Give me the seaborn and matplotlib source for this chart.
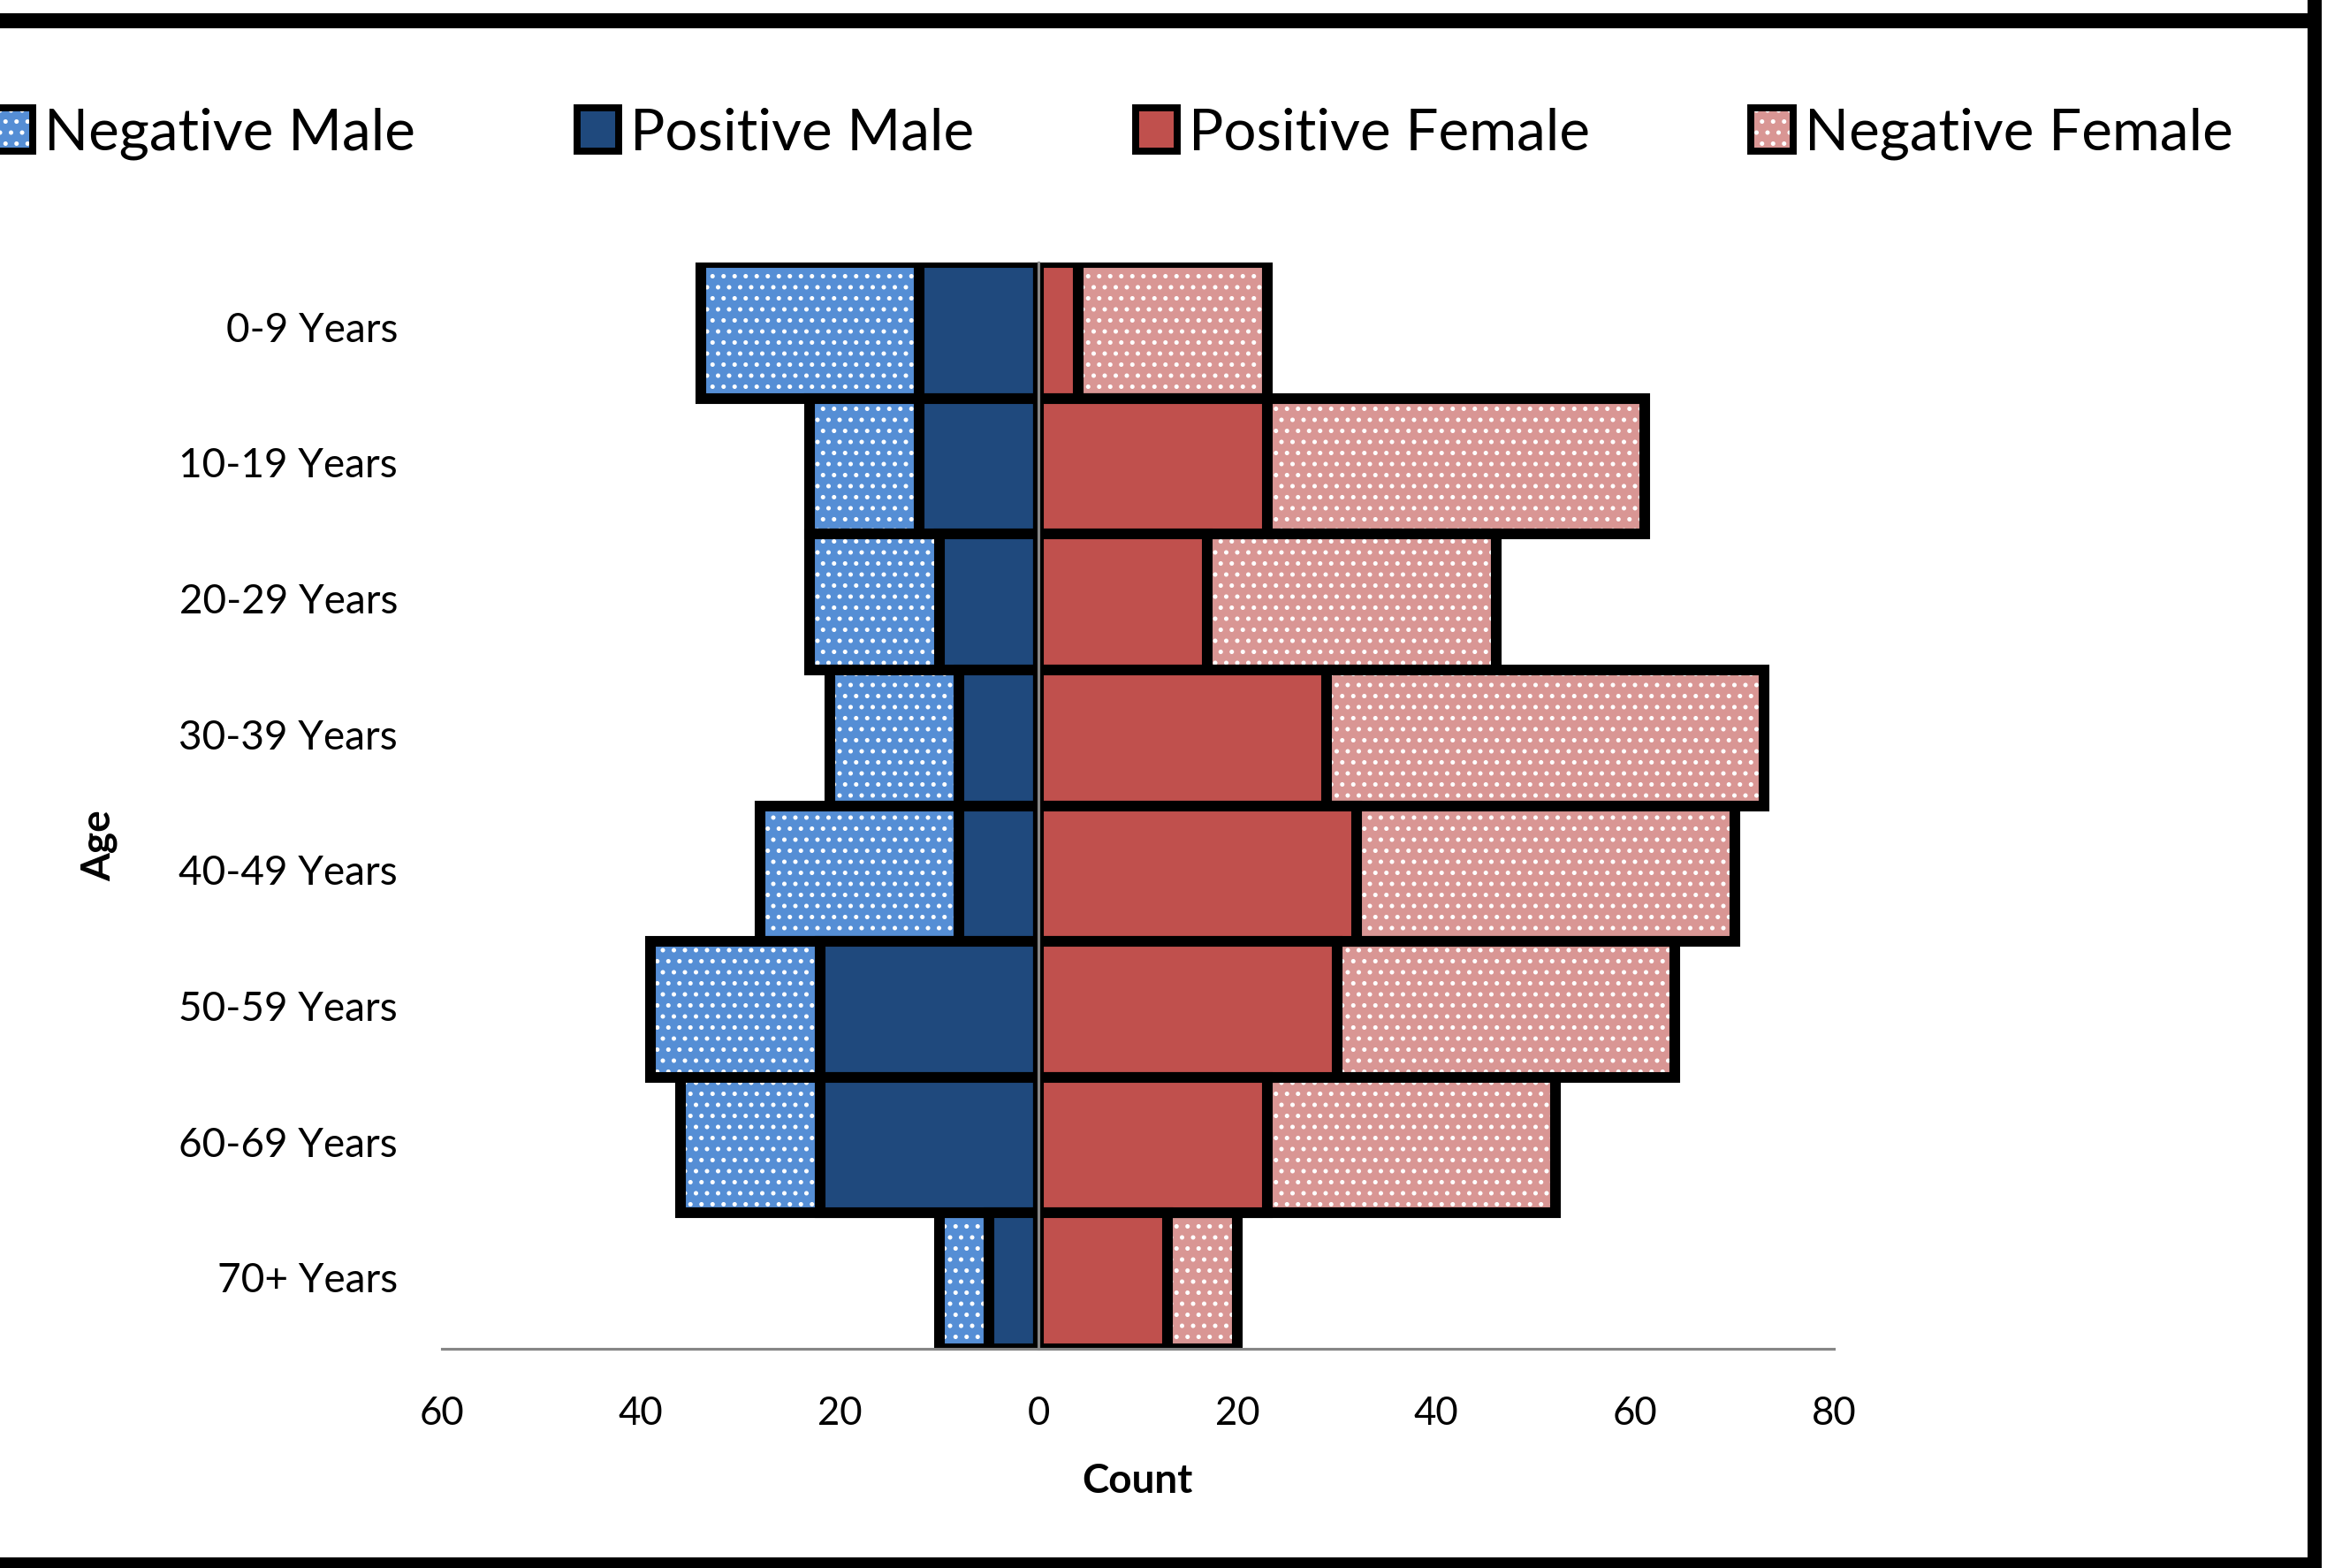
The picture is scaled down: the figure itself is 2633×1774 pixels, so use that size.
import numpy as np
import pandas as pd
import matplotlib
matplotlib.use("Agg")
import matplotlib.pyplot as plt
import matplotlib.transforms as mtransforms
from matplotlib.patches import Patch, Rectangle
from matplotlib.colors import to_rgba
import seaborn as sns

# ---------------- data ----------------
categories = ["0-9 Years", "10-19 Years", "20-29 Years", "30-39 Years",
              "40-49 Years", "50-59 Years", "60-69 Years", "70+ Years"]
positive_male = [12, 12, 10, 8, 8, 22, 22, 5]
negative_male = [22, 11, 13, 13, 20, 17, 14, 5]
positive_female = [4, 23, 17, 29, 32, 30, 23, 13]
negative_female = [19, 38, 29, 44, 38, 34, 29, 7]
series_labels = ["Negative Male", "Positive Male", "Positive Female", "Negative Female"]
x_ticks = [-60, -40, -20, 0, 20, 40, 60, 80]
x_tick_labels = ["60", "40", "20", "0", "20", "40", "60", "80"]

# ---------------- style ----------------
sns.set_style("white")
plt.rcParams["font.family"] = ["Lato", "DejaVu Sans"]
plt.rcParams["hatch.linewidth"] = 1.2
plt.rcParams["text.color"] = "black"

C_NEG_M = "#558ED5"
C_POS_M = "#1F497D"
C_POS_F = "#C0504D"
C_NEG_F = "#D99694"
GRAY = "#868686"
EDGE_LW = 5.8

W, H, DPI = 2633, 1774, 150
fig = plt.figure(figsize=(W / DPI, H / DPI), dpi=DPI)
fig.patch.set_facecolor("white")
ax = fig.add_axes([500 / W, 1 - 1526 / H, 1575 / W, 1229 / H])

pm = np.array(positive_male)
nm = np.array(negative_male)
pf = np.array(positive_female)
nf = np.array(negative_female)
df = pd.DataFrame({
    "age": categories,
    "male_total": -(pm + nm),
    "male_pos": -pm,
    "female_total": pf + nf,
    "female_pos": pf,
})


def white_hatch(patches, hatch):
    for p in patches:
        p.set_hatch(hatch)
        if hasattr(p, "set_hatchcolor"):
            p.set_hatchcolor("white")
        else:
            p._hatch_color = to_rgba("white")


layers = [("male_total", C_NEG_M, True), ("male_pos", C_POS_M, False),
          ("female_total", C_NEG_F, True), ("female_pos", C_POS_F, False)]
for col, color, hatched in layers:
    sns.barplot(data=df, x=col, y="age", order=categories, orient="h",
                color=color, saturation=1, width=1.0, edgecolor="black",
                linewidth=EDGE_LW, errorbar=None, ax=ax)
    if hatched:
        white_hatch(ax.containers[-1], "..")

# ---------------- axes ----------------
ax.set_xlim(-60, 80)
ax.set_ylim(len(categories) - 0.5, -0.5)
ax.set_xticks(x_ticks)
ax.set_xticklabels(x_tick_labels)
ax.set_yticks(np.arange(-0.5, len(categories), 1.0))
ax.set_yticklabels([])
ax.set_xlabel("")
ax.set_ylabel("")

for s in ["top", "right"]:
    ax.spines[s].set_visible(False)
ax.spines["left"].set_position(("data", 0))
for s in ["left", "bottom"]:
    ax.spines[s].set_color(GRAY)
    ax.spines[s].set_linewidth(1.5)

ax.tick_params(axis="y", direction="out", length=7.5, width=1.5, color=GRAY, labelleft=False)
ax.tick_params(axis="x", direction="out", length=8.6, width=1.5, color=GRAY,
               labelsize=21, labelcolor="black", pad=17)

trans = mtransforms.blended_transform_factory(ax.transAxes, ax.transData)
for i, c in enumerate(categories):
    ax.text(-50 / 1575, i, c, transform=trans, ha="right", va="center",
            fontsize=22, color="black")

fig.text(1287 / W, 1 - 1676 / H, "Count", ha="center", va="center",
         fontsize=22, fontweight="bold")
fig.text(112 / W, 1 - 957 / H, "Age", ha="center", va="center", rotation=90,
         fontsize=22, fontweight="bold")

# ---------------- legend ----------------
handle_colors = [C_NEG_M, C_POS_M, C_POS_F, C_NEG_F]
handle_hatch = [True, False, False, True]
handles = []
for col, h in zip(handle_colors, handle_hatch):
    p = Patch(facecolor=col, edgecolor="black", linewidth=3.8)
    if h:
        white_hatch([p], "..")
    handles.append(p)
fig.legend(handles, series_labels, loc="center left",
           bbox_to_anchor=(-10 / W, 1 - 151 / H), bbox_transform=fig.transFigure,
           ncol=4, frameon=False, fontsize=31.5, borderpad=0, borderaxespad=0,
           handlelength=0.72, handleheight=0.78, handletextpad=0.2,
           columnspacing=2.78)

# ---------------- frame borders ----------------
fig.add_artist(Rectangle((0, 1 - 32 / H), 2627 / W, 17 / H, transform=fig.transFigure,
                         facecolor="black", edgecolor="none"))
fig.add_artist(Rectangle((2611 / W, 0), 16 / W, 1, transform=fig.transFigure,
                         facecolor="black", edgecolor="none"))
fig.add_artist(Rectangle((0, 0), 2627 / W, 12 / H, transform=fig.transFigure,
                         facecolor="black", edgecolor="none"))

fig.savefig("out.png", dpi=DPI)
